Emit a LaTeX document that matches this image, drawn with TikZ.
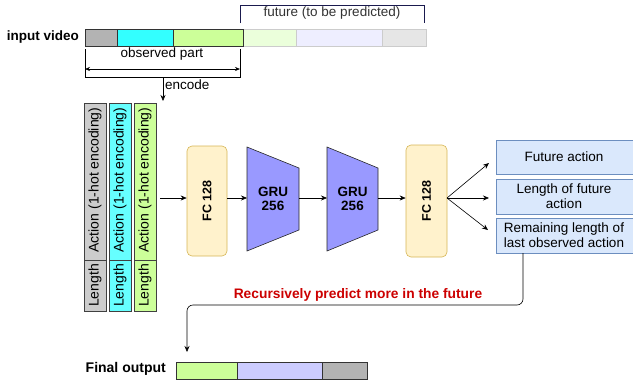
\documentclass[tikz,border=0pt]{standalone}
\usepackage{fontspec}
\setmainfont{Liberation Sans}
\usetikzlibrary{arrows.meta}
\definecolor{vgray}{HTML}{B3B3B3}
\definecolor{vcyan}{HTML}{33FFFF}
\definecolor{vgreen}{HTML}{CCFF99}
\definecolor{fgreen}{HTML}{EBFFDB}
\definecolor{flav}{HTML}{EEEEFF}
\definecolor{fgray}{HTML}{E6E6E6}
\definecolor{flavout}{HTML}{CCCCFF}
\definecolor{cgray}{HTML}{CCCCCC}
\definecolor{ccyan}{HTML}{66FFFF}
\definecolor{fcfill}{HTML}{FFF2CC}
\definecolor{fcdraw}{HTML}{D6B656}
\definecolor{grufill}{HTML}{9999FF}
\definecolor{outfill}{HTML}{DAE8FC}
\definecolor{outdraw}{HTML}{6C8EBF}
\definecolor{navy}{HTML}{1A1A4E}
\definecolor{redtxt}{HTML}{CC0000}
\tikzset{
  seg/.style={draw=black!80, line width=0.6pt},
  fseg/.style={draw=black!20, line width=0.6pt},
  col/.style={draw=black!75, line width=0.6pt},
  fcbox/.style={draw=fcdraw, fill=fcfill, rounded corners=5pt, line width=0.6pt},
  gru/.style={draw=black!85, fill=grufill, line width=0.6pt},
  outbox/.style={draw=outdraw, fill=outfill, line width=0.6pt},
  arr/.style={-{Stealth[length=6pt,width=5pt]}, line width=0.6pt},
  txt/.style={font=\fontsize{13.5}{15}\selectfont, align=center, inner sep=0pt},
  btxt/.style={font=\fontsize{13.5}{14.5}\selectfont\bfseries, align=center, inner sep=0pt},
  fctxt/.style={font=\fontsize{12.5}{14}\selectfont\bfseries, inner sep=0pt, rotate=90},
  coltxt/.style={font=\fontsize{14}{15}\selectfont, inner sep=0pt, rotate=90},
}
\begin{document}
\begin{tikzpicture}[x=1pt,y=-1pt]
\useasboundingbox (0,0) rectangle (633,381);
% input video bar
\node[btxt, anchor=east] (inlabel) at (79,37) {input video};
\draw[seg, fill=vgray] (85,29) rectangle (117,46);
\draw[seg, fill=vcyan] (117,29) rectangle (173,46);
\draw[seg, fill=vgreen] (173,29) rectangle (243,46);
\draw[fseg, fill=fgreen] (243,29) rectangle (296,46);
\draw[fseg, fill=flav] (296,29) rectangle (382,46);
\draw[fseg, fill=fgray] (382,29) rectangle (426,46);
\draw[seg] (85,29) rectangle (243,46);
% future bracket
\draw[navy, line width=1pt] (240,23) -- (240,5) -- (424,5) -- (424,23);
\node[txt, text=black!80] (future) at (332,13) {future (to be predicted)};
% observed part
\node[txt] (obs) at (162,54) {observed part};
\draw[line width=0.6pt] (85,49) -- (85,77) -- (240,77) -- (240,49);
\coordinate (dimL) at (85,69);
\coordinate (dimR) at (240,69);
\draw[{Stealth[length=5pt,width=4pt]}-{Stealth[length=5pt,width=4pt]}, line width=0.6pt] (dimL) -- (dimR);
\coordinate (encS) at (163,77);
\coordinate (encE) at (163,101);
\draw[arr] (encS) -- (encE);
\node[txt, anchor=west] (enc) at (165,85) {encode};
% columns
\foreach \xa/\xb/\c [count=\i] in {84/106/cgray, 109/131/ccyan, 134/156/vgreen}{
  \draw[col, fill=\c] (\xa,103) rectangle (\xb,311);
  \draw[col] (\xa,260) -- (\xb,260);
  \node[coltxt] (act\i) at ({(\xa+\xb)/2},180) {Action (1-hot encoding)};
  \node[coltxt] (len\i) at ({(\xa+\xb)/2},285.5) {Length};
}
\coordinate (colR) at (160,198);
% FC1
\node[fcbox, minimum width=40pt, minimum height=110pt, inner sep=0pt] (fc1) at (207,201) {};
\node[fctxt] (fc1t) at (fc1.center) {FC 128};
% GRUs
\draw[gru] (247,147) -- (299,168) -- (299,230) -- (247,251) -- cycle;
\node[btxt] (gru1) at (273,199) {GRU\\256};
\draw[gru] (327,147) -- (378,168) -- (378,230) -- (327,251) -- cycle;
\node[btxt] (gru2) at (352.5,199) {GRU\\256};
\coordinate (g1L) at (247,198);
\coordinate (g1R) at (299,198);
\coordinate (g2L) at (327,198);
\coordinate (g2R) at (378,198);
% FC2
\node[fcbox, minimum width=41pt, minimum height=112pt, inner sep=0pt] (fc2) at (426.5,201) {};
\node[fctxt] (fc2t) at (fc2.center) {FC 128};
% arrows
\draw[arr] (colR) -- (fc1.west |- colR);
\draw[arr] (fc1.east |- colR) -- (g1L);
\draw[arr] (g1R) -- (g2L);
\draw[arr] (g2R) -- (fc2.west |- g2R);
% outputs
\draw[outbox] (496,140) rectangle (634,174);
\node[txt] (o1) at (564,157) {Future action};
\draw[outbox] (496,179) rectangle (634,214);
\node[txt] (o2) at (564,196.5) {Length of future\\action};
\draw[outbox] (496,218) rectangle (634,253);
\node[txt] (o3) at (564,235.5) {Remaining length of\\last observed action};
\coordinate (fcout) at (447,198);
\coordinate (t1) at (489,163);
\coordinate (t2) at (489,198);
\coordinate (t3) at (488,230);
\draw[arr] (fcout) -- (t1);
\draw[arr] (fcout) -- (t2);
\draw[arr] (fcout) -- (t3);
% feedback
\coordinate (fbS) at (523,253);
\coordinate (fbE) at (187,352);
\draw[arr, rounded corners=6pt] (fbS) -- (523,305) -- (187,305) -- (fbE);
\node[btxt, text=redtxt, font=\fontsize{13.8}{15}\selectfont\bfseries] (rec) at (358,295) {Recursively predict more in the future};
% final output
\node[btxt, anchor=east, font=\fontsize{14}{15}\selectfont\bfseries] (finlabel) at (166,369) {Final output};
\draw[seg, fill=vgreen] (176,362) rectangle (237,379);
\draw[seg, fill=flavout] (237,362) rectangle (322,379);
\draw[seg, fill=vgray] (322,362) rectangle (367,379);
\end{tikzpicture}
\end{document}
